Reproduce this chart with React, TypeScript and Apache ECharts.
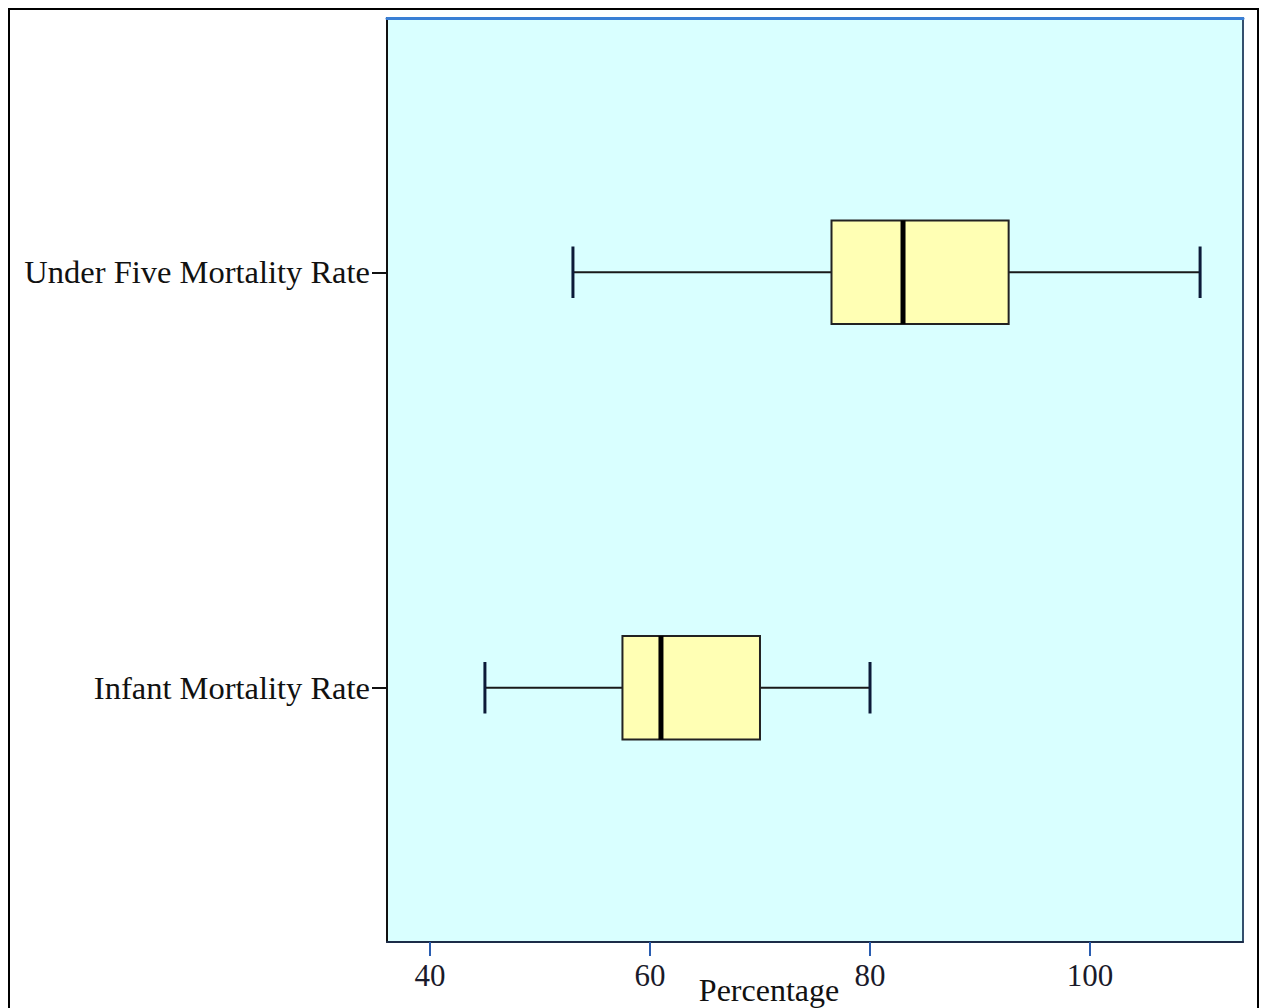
import React, { useEffect, useRef } from "react";
import * as echarts from "echarts";

const categories = ["Under Five Mortality Rate", "Infant Mortality Rate"];
// [low whisker, Q1, median, Q3, high whisker]
const lowValues = [53.0, 45.0];
const q1Values = [76.5, 57.5];
const medianValues = [83.0, 61.0];
const q3Values = [92.6, 70.0];
const highValues = [110.0, 80.0];
const xTicks = [40, 60, 80, 100];
const xMin = 36.1;
const xMax = 113.9;

export default function App() {
  const ref = useRef<HTMLDivElement>(null);
  useEffect(() => {
    document.body.style.margin = "0";
    const chart = echarts.init(ref.current!, null, { renderer: "svg" });
    const data = categories.map((_, i) => [
      i,
      lowValues[i],
      q1Values[i],
      medianValues[i],
      q3Values[i],
      highValues[i],
    ]);
    const font = "'Liberation Serif', 'DejaVu Serif', serif";
    chart.setOption({
      animation: false,
      backgroundColor: "#ffffff",
      grid: {
        left: 387,
        top: 18,
        right: 21,
        bottom: 66,
        show: true,
        backgroundColor: "#d9ffff",
        borderWidth: 0,
        containLabel: false,
        outerBoundsMode: "none",
      },
      graphic: [
        {
          type: "rect",
          shape: { x: 9, y: 9, width: 1249, height: 1010 },
          style: { fill: "none", stroke: "#000", lineWidth: 2 },
          silent: true,
        },
      ],
      xAxis: [
        {
          type: "value",
          min: xMin,
          max: xMax,
          position: "bottom",
          splitLine: { show: false },
          axisLine: { show: true, onZero: false, lineStyle: { color: "#1c2c48", width: 2 } },
          axisTick: {
            show: true,
            length: 14,
            customValues: xTicks,
            lineStyle: { color: "#2a5db0", width: 2 },
          },
          axisLabel: {
            customValues: xTicks,
            fontFamily: font,
            fontSize: 31,
            color: "#1a1a2a",
            margin: 18,
          },
          name: "Percentage",
          nameLocation: "middle",
          nameGap: 32,
          nameMoveOverlap: false,
          nameTextStyle: {
            fontFamily: font,
            fontSize: 32,
            color: "#111",
            padding: [0, 92, 0, 0],
          },
        },
        {
          type: "value",
          min: xMin,
          max: xMax,
          position: "top",
          splitLine: { show: false },
          axisLine: { show: true, onZero: false, lineStyle: { color: "#3a7fd5", width: 3 } },
          axisTick: { show: false },
          axisLabel: { show: false },
        },
      ],
      yAxis: [
        {
          type: "value",
          inverse: true,
          min: -0.612,
          max: 1.612,
          position: "left",
          splitLine: { show: false },
          axisLine: { show: true, onZero: false, lineStyle: { color: "#111", width: 2 } },
          axisTick: {
            show: true,
            length: 15,
            customValues: [0, 1],
            lineStyle: { color: "#111", width: 2 },
          },
          axisLabel: {
            customValues: [0, 1],
            formatter: (v: number) => categories[Math.round(v)] ?? "",
            fontFamily: font,
            fontSize: 32.5,
            color: "#111",
            margin: 17,
          },
        },
        {
          type: "value",
          inverse: true,
          min: -0.612,
          max: 1.612,
          position: "right",
          splitLine: { show: false },
          axisLine: { show: true, onZero: false, lineStyle: { color: "#34506e", width: 2 } },
          axisTick: { show: false },
          axisLabel: { show: false },
        },
      ],
      series: [
        {
          type: "custom",
          xAxisIndex: 0,
          yAxisIndex: 0,
          encode: { x: [1, 2, 3, 4, 5], y: 0 },
          data,
          renderItem: (params: any, api: any) => {
            const c = api.value(0);
            const pLow = api.coord([api.value(1), c]);
            const pQ1 = api.coord([api.value(2), c]);
            const pMed = api.coord([api.value(3), c]);
            const pQ3 = api.coord([api.value(4), c]);
            const pHigh = api.coord([api.value(5), c]);
            const unit = api.size([0, 1])[1];
            const hb = unit * 0.1247;
            const hc = unit * 0.062;
            const yc = pQ1[1];
            return {
              type: "group",
              children: [
                {
                  type: "line",
                  shape: { x1: pLow[0], y1: yc, x2: pQ1[0], y2: yc },
                  style: { stroke: "#1a1a1a", lineWidth: 2 },
                },
                {
                  type: "line",
                  shape: { x1: pQ3[0], y1: yc, x2: pHigh[0], y2: yc },
                  style: { stroke: "#1a1a1a", lineWidth: 2 },
                },
                {
                  type: "rect",
                  shape: {
                    x: pQ1[0],
                    y: yc - hb,
                    width: pQ3[0] - pQ1[0],
                    height: hb * 2,
                  },
                  style: { fill: "#ffffb4", stroke: "#222", lineWidth: 2 },
                },
                {
                  type: "line",
                  shape: { x1: pMed[0], y1: yc - hb, x2: pMed[0], y2: yc + hb },
                  style: { stroke: "#000", lineWidth: 5 },
                },
                {
                  type: "line",
                  shape: { x1: pLow[0], y1: yc - hc, x2: pLow[0], y2: yc + hc },
                  style: { stroke: "#0c1a38", lineWidth: 3 },
                },
                {
                  type: "line",
                  shape: { x1: pHigh[0], y1: yc - hc, x2: pHigh[0], y2: yc + hc },
                  style: { stroke: "#0c1a38", lineWidth: 3 },
                },
              ],
            };
          },
        },
      ],
    });
    return () => chart.dispose();
  }, []);
  return <div ref={ref} style={{ width: 1264, height: 1008 }} />;
}
